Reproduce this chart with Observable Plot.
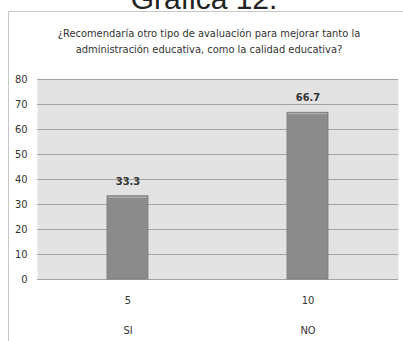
<!DOCTYPE html>
<html>
<head>
<meta charset="utf-8">
<script src="https://cdn.jsdelivr.net/npm/d3@7"></script>
<script src="https://cdn.jsdelivr.net/npm/@observablehq/plot@0.6"></script>
<style>
  body { margin: 0; background: #fff; }
  #wrap { position: relative; width: 403px; height: 341px; overflow: hidden; background: #fff; }
  #bigtitle { position: absolute; left: 0; width: 408px; top: -16px; text-align: center;
    font-family: "Liberation Sans", Arial, sans-serif; font-size: 30px; line-height: 30px; color: #222; }
  #frame { position: absolute; left: 8px; top: 11px; width: 400px; height: 340px;
    border-left: 1px solid #c8c8c8; border-top: 1px solid #c8c8c8; }
  #subtitle { position: absolute; left: 0; width: 418px; top: 26px; text-align: center;
    font-family: "DejaVu Sans Condensed", "DejaVu Sans", sans-serif; font-stretch: condensed;
    font-size: 11px; line-height: 16px; color: #333; }
  #chart { position: absolute; left: 0; top: 60px; }
</style>
</head>
<body>
<div id="wrap">
  <div id="bigtitle">Gráfica 12.</div>
  <div id="frame"></div>
  <div id="subtitle">¿Recomendaría otro tipo de avaluación para mejorar tanto la<br>administración educativa, como la calidad educativa?</div>
  <div id="chart"></div>
</div>
<script>
const categories = ["SI", "NO"];
const counts = [5, 10];
const percents = [33.3, 66.7];
const yTicks = [0, 10, 20, 30, 40, 50, 60, 70, 80];

const data = categories.map((c, i) => ({cat: c, count: counts[i], pct: percents[i]}));
const countOf = new Map(data.map(d => [d.cat, d.count]));

const font = "'DejaVu Sans Condensed', 'DejaVu Sans', sans-serif";

const plot = Plot.plot({
  width: 403,
  height: 281,
  marginTop: 19,
  marginBottom: 62,
  marginLeft: 37,
  marginRight: 5,
  style: {fontFamily: font, fontSize: "11px", color: "#333", background: "transparent", fontStretch: "condensed"},
  x: {domain: categories, paddingInner: 0.773, paddingOuter: 0.386, label: null},
  y: {domain: [0, 80], label: null},
  marks: [
    Plot.frame({fill: "#e2e2e2", stroke: null}),
    Plot.gridY(yTicks, {stroke: "#a3a3a3", strokeOpacity: 1, strokeWidth: 1}),
    Plot.barY(data, {x: "cat", y: "pct", fill: "#8b8b8b", stroke: "#7a7a7a", strokeWidth: 0.8}),
    Plot.barY(data, {x: "cat", y1: d => d.pct - 1.2, y2: "pct", fill: "#b9b9b9", inset: 1}),
    Plot.text(data, {x: "cat", y: "pct", text: d => d.pct.toFixed(1), dy: -15, fontWeight: "bold", fill: "#333", fontSize: 11}),
    Plot.axisY({ticks: yTicks, tickSize: 0, tickPadding: 10, fill: "#333"}),
    Plot.axisX({tickSize: 0, tickPadding: 17, tickFormat: d => String(countOf.get(d)), fill: "#333"}),
    Plot.axisX({tickSize: 0, tickPadding: 47, tickFormat: d => d, fill: "#333"})
  ]
});
document.getElementById("chart").appendChild(plot);
</script>
</body>
</html>
